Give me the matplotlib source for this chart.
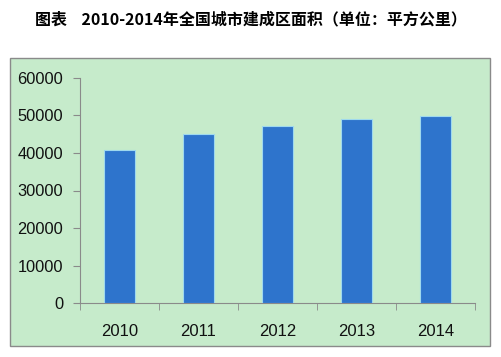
import matplotlib
matplotlib.use("Agg")
import matplotlib.pyplot as plt
from matplotlib.patches import Rectangle

years = ["2010", "2011", "2012", "2013", "2014"]
area = [40700, 45200, 47200, 49100, 49900]
yticks = [0, 10000, 20000, 30000, 40000, 50000, 60000]
title = "图表    2010-2014年全国城市建成区面积（单位：平方公里）"

W, H = 502, 357
fig = plt.figure(figsize=(W / 100, H / 100), dpi=100)
fig.patch.set_facecolor("white")

# green chart panel
panel = Rectangle((10 / W, 1 - 346 / H), 480 / W, (346 - 58) / H,
                  transform=fig.transFigure, facecolor="#C6EBCB",
                  edgecolor="#8A8A8A", linewidth=1.0, zorder=-5)
fig.add_artist(panel)

fig.text(0.5, 1 - 19 / H, title, ha="center", va="center", fontsize=11.5,
         fontweight="bold", family=["Noto Sans CJK SC", "DejaVu Sans"])

ax = fig.add_axes([80 / W, 1 - 303 / H, 395 / W, 225 / H])
ax.set_facecolor("none")
ax.set_zorder(1)
x = list(range(len(years)))
ax.bar(x, area, width=0.4, color="#2E74CC", edgecolor="#9FD9EE",
       linewidth=0.8, zorder=3)
ax.set_xlim(-0.5, len(years) - 0.5)
ax.set_ylim(0, 60000)
ax.set_yticks(yticks)
ax.set_yticklabels([str(v) for v in yticks], fontsize=11.8,
                   family="Liberation Sans", color="#111111")
ax.set_xticks(x)
ax.set_xticklabels(years, fontsize=12, family="Liberation Sans",
                   color="#111111")
ax.set_xticks([i + 0.5 for i in range(-1, len(years))], minor=True)
ax.tick_params(axis="x", which="major", length=0, pad=15)
ax.tick_params(axis="x", which="minor", length=5, color="#8A8A8A",
               direction="out")
ax.tick_params(axis="y", length=5, color="#8A8A8A", direction="out", pad=7)
for s in ["top", "right"]:
    ax.spines[s].set_visible(False)
for s in ["left", "bottom"]:
    ax.spines[s].set_color("#8A8A8A")
    ax.spines[s].set_linewidth(0.8)

fig.savefig("out.png", dpi=100)
